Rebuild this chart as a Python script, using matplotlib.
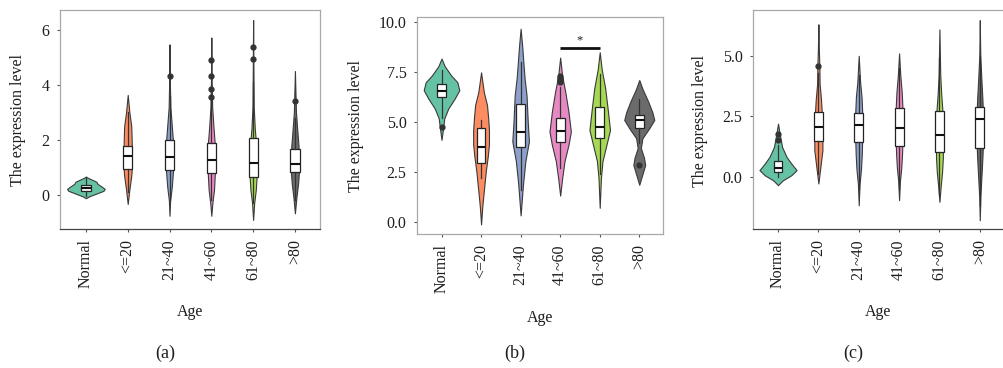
import numpy as np
import matplotlib
matplotlib.use("Agg")
import matplotlib.pyplot as plt

plt.rcParams['font.family'] = ['Liberation Serif', 'DejaVu Serif']

groups = ["Normal", "<=20", "21~40", "41~60", "61~80", ">80"]
colors = ["#66c2a5", "#fc8d62", "#8da0cb", "#e78ac3", "#a6d854", "#6b6b6b"]

# violin outlines: levels and half widths (x units)
a_levels = [
    [-0.12, -0.05, 0.05, 0.15, 0.22, 0.30, 0.40, 0.48, 0.55, 0.62, 0.67],
    [-0.33, 0.2, 0.7, 1.0, 1.5, 2.0, 2.5, 3.0, 3.64],
    [-0.76, -0.2, 0.3, 0.9, 1.4, 2.0, 2.6, 3.2, 4.0, 5.48],
    [-0.76, -0.3, 0.2, 0.8, 1.3, 1.9, 2.5, 3.2, 4.2, 5.73],
    [-0.91, -0.3, 0.2, 0.7, 1.2, 1.8, 2.4, 3.2, 4.5, 6.36],
    [-0.67, -0.1, 0.4, 0.9, 1.3, 1.8, 2.3, 3.0, 3.6, 4.51],
]
a_half = [
    [0, 0.08, 0.25, 0.42, 0.45, 0.38, 0.28, 0.25, 0.15, 0.05, 0],
    [0, 0.04, 0.085, 0.10, 0.10, 0.095, 0.085, 0.04, 0],
    [0, 0.015, 0.055, 0.085, 0.09, 0.08, 0.05, 0.02, 0.01, 0],
    [0, 0.025, 0.065, 0.085, 0.09, 0.08, 0.05, 0.02, 0.008, 0],
    [0, 0.025, 0.065, 0.085, 0.085, 0.075, 0.04, 0.015, 0.008, 0],
    [0, 0.035, 0.075, 0.10, 0.10, 0.085, 0.06, 0.025, 0.015, 0],
]
# q1, median, q3, whisker low, whisker high
a_box = [
    (0.15, 0.27, 0.35, -0.05, 0.6),
    (0.96, 1.43, 1.78, 0.1, 3.0),
    (0.91, 1.38, 2.0, -0.2, 3.6),
    (0.78, 1.28, 1.88, -0.2, 3.5),
    (0.64, 1.15, 2.06, -0.3, 4.1),
    (0.85, 1.11, 1.66, -0.2, 2.8),
]
a_fliers = [[], [], [4.32], [3.58, 3.87, 4.33, 4.91], [4.93, 5.39], [3.41]]

b_levels = [
    [4.12, 4.7, 5.19, 5.68, 6.17, 6.6, 7.0, 7.32, 7.8, 8.18],
    [-0.11, 0.76, 1.58, 2.56, 3.3, 3.9, 4.6, 5.2, 5.86, 6.5, 7.49],
    [0.34, 1.9, 3.05, 4.04, 5.02, 6.34, 7.2, 7.98, 8.8, 9.67],
    [1.33, 2.2, 3.05, 3.87, 4.53, 5.52, 6.5, 7.32, 8.23],
    [0.72, 2.2, 3.05, 3.87, 4.61, 5.68, 6.67, 7.65, 8.5],
    [1.87, 2.4, 2.86, 3.22, 3.71, 4.2, 4.69, 5.11, 5.5, 6.01, 6.67, 7.11],
]
b_half = [
    [0, 0.04, 0.07, 0.17, 0.33, 0.45, 0.40, 0.25, 0.08, 0],
    [0, 0.03, 0.07, 0.12, 0.17, 0.20, 0.20, 0.18, 0.15, 0.07, 0],
    [0, 0.06, 0.12, 0.21, 0.18, 0.15, 0.10, 0.07, 0.04, 0],
    [0, 0.05, 0.11, 0.21, 0.27, 0.21, 0.13, 0.05, 0],
    [0, 0.03, 0.07, 0.17, 0.26, 0.20, 0.14, 0.05, 0],
    [0, 0.08, 0.15, 0.12, 0.04, 0.08, 0.25, 0.38, 0.33, 0.23, 0.08, 0],
]
b_box = [
    (6.26, 6.55, 6.93, 5.2, 7.6),
    (2.94, 3.76, 4.73, 2.23, 5.11),
    (3.74, 4.5, 5.9, 1.6, 8.0),
    (3.99, 4.58, 5.19, 2.7, 6.75),
    (4.2, 4.78, 5.76, 2.4, 7.4),
    (4.73, 5.11, 5.35, 3.96, 6.14),
]
b_fliers = [[4.78], [], [], [7.0, 7.1, 7.2, 7.32], [], [2.84]]
b_sig = (3, 4, 8.72)

c_levels = [
    [-0.34, -0.14, 0.07, 0.28, 0.55, 0.83, 1.24, 1.79, 2.2],
    [-0.27, 0.41, 1.1, 1.8, 2.5, 3.2, 3.86, 4.55, 5.24, 6.3],
    [-1.17, -0.3, 0.3, 0.9, 1.5, 2.1, 2.7, 3.3, 3.9, 5.0],
    [-0.96, -0.2, 0.4, 1.0, 1.6, 2.2, 2.8, 3.5, 4.2, 5.1],
    [-1.03, -0.4, 0.2, 0.8, 1.4, 2.0, 2.7, 3.4, 4.2, 6.09],
    [-1.79, -0.8, 0.0, 0.8, 1.6, 2.4, 3.2, 4.0, 5.0, 6.47],
]
c_half = [
    [0, 0.12, 0.33, 0.46, 0.33, 0.21, 0.10, 0.04, 0],
    [0, 0.05, 0.10, 0.10, 0.09, 0.065, 0.03, 0.025, 0.012, 0],
    [0, 0.02, 0.055, 0.075, 0.085, 0.085, 0.085, 0.07, 0.035, 0],
    [0, 0.02, 0.055, 0.075, 0.085, 0.085, 0.085, 0.065, 0.03, 0],
    [0, 0.03, 0.065, 0.085, 0.085, 0.085, 0.075, 0.045, 0.02, 0],
    [0, 0.015, 0.04, 0.065, 0.085, 0.085, 0.065, 0.04, 0.012, 0],
]
c_box = [
    (0.21, 0.37, 0.66, 0.0, 1.3),
    (1.49, 2.04, 2.66, 0.1, 4.3),
    (1.45, 2.14, 2.65, -0.5, 4.2),
    (1.28, 2.0, 2.83, -0.5, 4.5),
    (1.03, 1.72, 2.73, -0.7, 4.9),
    (1.21, 2.4, 2.89, -1.2, 5.0),
]
c_fliers = [[1.52, 1.79], [4.59], [], [], [], []]

text_col = "#1e1e1e"


def draw_panel(ax, levels, halfs, boxes, fliers, ylim, yticks, yfmt):
    pos = np.arange(len(groups))
    stats = []
    widths = []
    for lv, hw, bx in zip(levels, halfs, boxes):
        lv = np.array(lv)
        hw = np.array(hw)
        stats.append({'coords': lv, 'vals': hw, 'mean': bx[1], 'median': bx[1],
                      'min': lv.min(), 'max': lv.max()})
        widths.append(2 * hw.max())
    parts = ax.violin(stats, positions=pos, widths=widths, showmeans=False,
                      showextrema=False, showmedians=False)
    for body, col in zip(parts['bodies'], colors):
        body.set_facecolor(col)
        body.set_edgecolor("#3a3a3a")
        body.set_linewidth(0.8)
        body.set_alpha(1)

    bstats = []
    for bx, fl in zip(boxes, fliers):
        bstats.append({'q1': bx[0], 'med': bx[1], 'q3': bx[2],
                       'whislo': bx[3], 'whishi': bx[4], 'fliers': fl})
    ax.bxp(bstats, positions=pos, widths=0.22, patch_artist=True, showcaps=False,
           manage_ticks=False,
           boxprops=dict(facecolor="white", edgecolor="#222222", linewidth=0.9),
           medianprops=dict(color="#111111", linewidth=1.5),
           whiskerprops=dict(color="#333333", linewidth=0.9),
           flierprops=dict(marker='o', markersize=3.5, markerfacecolor="#333333",
                           markeredgecolor="#333333"))

    ax.set_xlim(-0.62, 5.6)
    ax.set_ylim(*ylim)
    ax.set_xticks(pos)
    ax.set_xticklabels(groups, rotation=90, fontsize=11.5, color=text_col)
    ax.set_yticks(yticks)
    ax.set_yticklabels([yfmt.format(t) for t in yticks], fontsize=11.5, color=text_col)
    ax.tick_params(length=2.5, width=0.8, color="#555555", pad=5)
    for side in ['left', 'top', 'right']:
        ax.spines[side].set_color("#a8a8a8")
        ax.spines[side].set_linewidth(0.9)
    ax.spines['bottom'].set_color("#444444")
    ax.spines['bottom'].set_linewidth(0.9)


fig = plt.figure(figsize=(10.04, 3.68), dpi=100)
W, H = 1004.0, 368.0


def add_axes(l, r, t, b):
    return fig.add_axes([l / W, 1 - b / H, (r - l) / W, (b - t) / H])


ax_a = add_axes(60, 320, 10, 229)
ax_b = add_axes(417, 663, 17, 234)
ax_c = add_axes(753, 1004, 10, 229)

draw_panel(ax_a, a_levels, a_half, a_box, a_fliers, (-1.24, 6.73), [0, 2, 4, 6], "{:.0f}")
draw_panel(ax_b, b_levels, b_half, b_box, b_fliers, (-0.59, 10.26),
           [0, 2.5, 5, 7.5, 10], "{:.1f}")
draw_panel(ax_c, c_levels, c_half, c_box, c_fliers, (-2.15, 6.89), [0, 2.5, 5], "{:.1f}")
ax_b.spines['bottom'].set_color("#a8a8a8")
ax_c.spines['right'].set_visible(False)

# significance bar between 41~60 and 61~80
x1, x2, yb = b_sig
ax_b.plot([x1, x2], [yb, yb], color="#111111", linewidth=2, solid_capstyle='butt')
ax_b.text((x1 + x2) / 2, yb + 0.05, "*", ha='center', va='bottom', fontsize=9,
          color=text_col)

# axis titles and panel letters
for xc, ylab_x, ylab_y, age_y, letter in [(190, 18, 120, 312, "(a)"),
                                           (540, 356, 126, 318, "(b)"),
                                           (878, 700, 121, 312, "(c)")]:
    fig.text(ylab_x / W, 1 - ylab_y / H, "The expression level", rotation=90,
             ha='center', va='center', fontsize=11.5, color=text_col)
    fig.text(xc / W, 1 - age_y / H, "Age", ha='center', va='center',
             fontsize=11.5, color=text_col)
    fig.text((xc - 25) / W, 1 - 353 / H, letter, ha='center', va='center',
             fontsize=13, color=text_col)

fig.savefig("out.png", dpi=100)
